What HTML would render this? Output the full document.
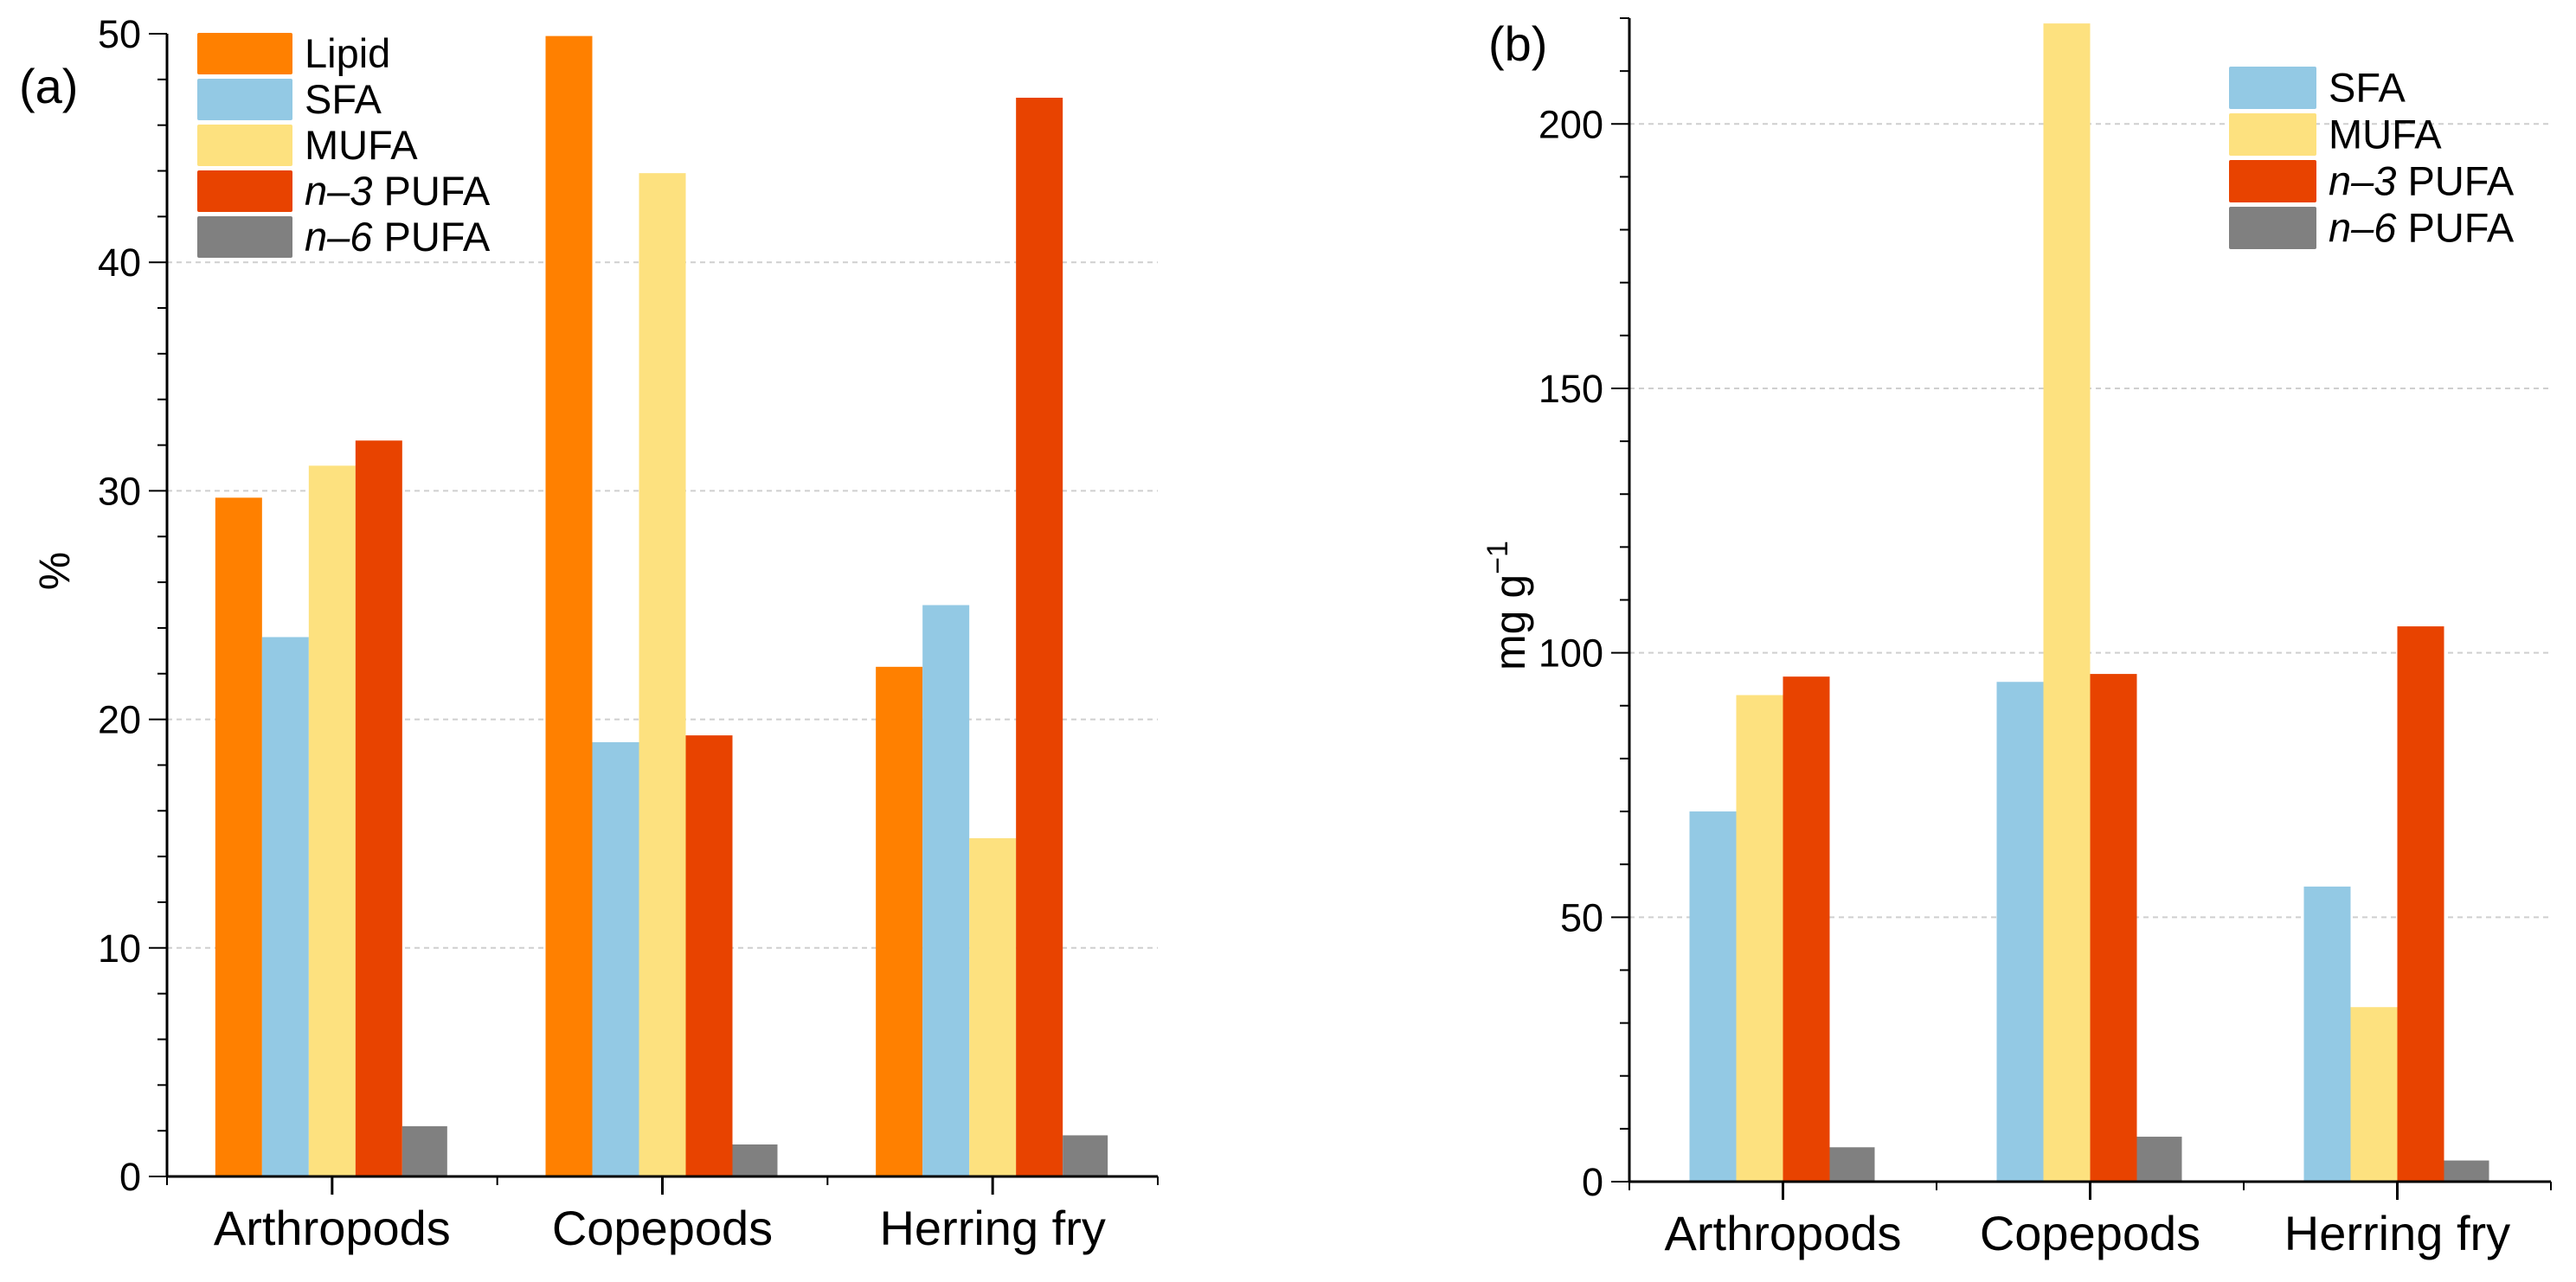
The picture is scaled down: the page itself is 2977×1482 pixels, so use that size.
<!DOCTYPE html>
<html><head><meta charset="utf-8"><style>
html,body{margin:0;padding:0;background:#fff;}
svg{display:block;font-family:"Liberation Sans",Arial,sans-serif;}
</style></head><body>
<svg id="chart" width="2977" height="1482" viewBox="0 0 2977 1482" xmlns="http://www.w3.org/2000/svg">
<g id="pa"></g>
<g id="pb"></g>
</svg>
<script>
const categories = ["Arthropods", "Copepods", "Herring fry"];
const seriesA = ["Lipid", "SFA", "MUFA", "n3", "n6"];
const lipidA = [29.7, 49.9, 22.3];
const sfaA = [23.6, 19.0, 25.0];
const mufaA = [31.1, 43.9, 14.8];
const n3A = [32.2, 19.3, 47.2];
const n6A = [2.2, 1.4, 1.8];
const ticksA = [0, 10, 20, 30, 40, 50];
const sfaB = [70, 94.5, 55.8];
const mufaB = [92, 219, 33];
const n3B = [95.5, 96, 105];
const n6B = [6.5, 8.5, 4];
const ticksB = [0, 50, 100, 150, 200];

const NS = "http://www.w3.org/2000/svg";
const COL = {Lipid:"#FF8000", SFA:"#93C9E4", MUFA:"#FDE17F", n3:"#E84300", n6:"#808080"};
function mk(parent, tag, attrs, text){
  const e = document.createElementNS(NS, tag);
  for (const k in attrs) e.setAttribute(k, attrs[k]);
  if (text !== undefined) e.textContent = text;
  parent.appendChild(e);
  return e;
}

function panel(g, cfg){
  const {x0, x1, y0, yTop, vmax, major, minor, ticks, series} = cfg;
  const ys = v => y0 - (v / vmax) * (y0 - yTop);
  const step = (x1 - x0) / categories.length;
  const xc = i => x0 + step * (i + 0.5);
  ticks.forEach(t => {
    if (t === 0 || ys(t) < yTop + 2) return;
    const l = mk(g, "line", {x1:x0, x2:x1, y1:ys(t), y2:ys(t), stroke:"#cfcfcf", "stroke-width":2, "stroke-dasharray":"6,5"});
    
    
  });
  const bw = 54;
  series.forEach((s, si) => {
    s.values.forEach((v, i) => {
      const left = xc(i) - bw * series.length / 2 + si * bw;
      const r = mk(g, "rect", {x:left, y:ys(v), width:(s.key === "n6" ? bw - 2 : bw), height:y0 - ys(v), fill:COL[s.key]});
      
      
    });
  });
  const ya = mk(g, "line", {x1:x0, x2:x0, y1:yTop, y2:y0 + 1, stroke:"#000", "stroke-width":3});
  
  
  for (let v = 0; v <= vmax + 1e-9; v += minor) {
    const isMaj = Math.abs(v / major - Math.round(v / major)) < 1e-6;
    const t = mk(g, "line", {x1:x0 - (isMaj ? 21 : 11), x2:x0, y1:ys(v), y2:ys(v), stroke:"#000", "stroke-width":2});
    
    
  }
  ticks.forEach(t => {
    const tx = mk(g, "text", {x:x0 - 30, y:ys(t) + 16, "text-anchor":"end", "font-size":45}, String(t));
    
    
  });
  const xa = mk(g, "line", {x1:x0 - 1, x2:x1, y1:y0, y2:y0, stroke:"#000", "stroke-width":3});
  
  
  for (let i = 0; i <= categories.length; i++) {
    const t = mk(g, "line", {x1:x0 + step * i, x2:x0 + step * i, y1:y0, y2:y0 + 10, stroke:"#000", "stroke-width":2});
    
    
  }
  categories.forEach((c, i) => {
    const t = mk(g, "line", {x1:xc(i), x2:xc(i), y1:y0, y2:y0 + 21, stroke:"#000", "stroke-width":3});
    
    
    const tx = mk(g, "text", {x:xc(i), y:y0 + 79, "text-anchor":"middle", "font-size":56}, c);
    
    
  });
}

function legend(g, x, y, pitch, w, h, keys){
  const names = {Lipid:"Lipid", SFA:"SFA", MUFA:"MUFA"};
  keys.forEach((k, i) => {
    const yy = y + i * pitch;
    const r = mk(g, "rect", {x:x, y:yy, width:w, height:h, fill:COL[k], rx:2});
    
    
    const t = mk(g, "text", {x:x + w + 14, y:yy + h / 2 + 16, "font-size":47});
    
    
    if (names[k]) t.textContent = names[k];
    else {
      mk(t, "tspan", {"font-style":"italic"}, k === "n3" ? "n\u20133" : "n\u20136");
      mk(t, "tspan", {}, " PUFA");
    }
  });
}

const ga = document.getElementById("pa");
panel(ga, {x0:193, x1:1338, y0:1360, yTop:39, vmax:50, major:10, minor:2, ticks:ticksA,
  series:[{key:"Lipid",values:lipidA},{key:"SFA",values:sfaA},{key:"MUFA",values:mufaA},{key:"n3",values:n3A},{key:"n6",values:n6A}]});
legend(ga, 228, 38, 53, 110, 48, seriesA);
let ta = mk(ga, "text", {x:22, y:119, "font-size":56}, "(a)");


let yla = mk(ga, "text", {x:0, y:0, "font-size":50, "text-anchor":"middle", transform:"translate(80,660) rotate(-90)"}, "%");



const gb = document.getElementById("pb");
panel(gb, {x0:1883, x1:2948, y0:1366, yTop:21, vmax:220, major:50, minor:10, ticks:ticksB,
  series:[{key:"SFA",values:sfaB},{key:"MUFA",values:mufaB},{key:"n3",values:n3B},{key:"n6",values:n6B}]});
legend(gb, 2576, 77, 54, 101, 49, ["SFA","MUFA","n3","n6"]);
let tb = mk(gb, "text", {x:1720, y:70, "font-size":56}, "(b)");


let ylb = mk(gb, "text", {x:0, y:0, "font-size":50, "text-anchor":"middle", transform:"translate(1762,700) rotate(-90)"});


mk(ylb, "tspan", {}, "mg g");
mk(ylb, "tspan", {dy:-20, "font-size":34}, "\u22121");
</script>
</body></html>
